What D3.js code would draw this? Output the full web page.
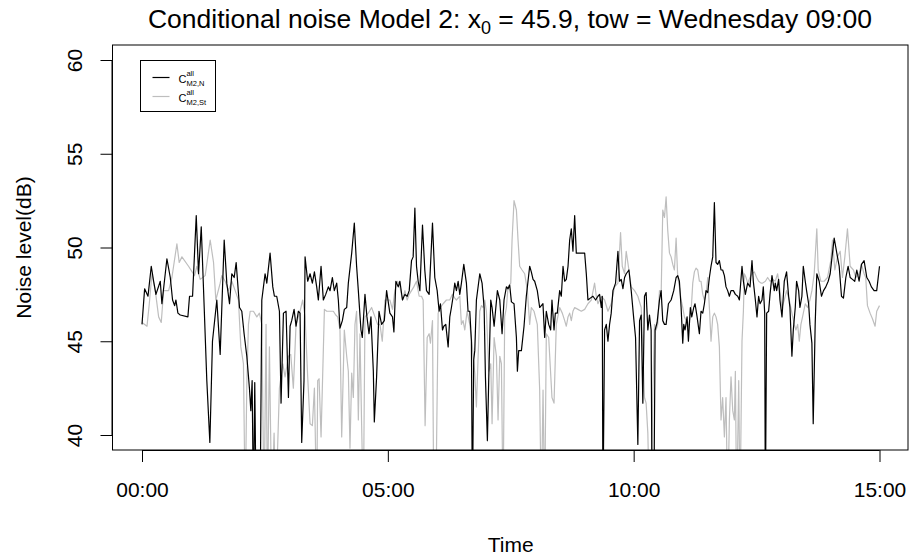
<!DOCTYPE html>
<html><head><meta charset="utf-8">
<script src="https://cdn.jsdelivr.net/npm/d3@7"></script>
<style>body{margin:0;background:#fff}svg{display:block}text{font-family:"Liberation Sans",Arial,Helvetica,sans-serif;fill:#000}</style>
</head><body><svg id="c" width="909" height="558"></svg>
<script>
// ---- data (minutes since 00:00, dB) ----
const xTickMinutes = [0, 300, 600, 900];
const xTickLabels = ["00:00", "05:00", "10:00", "15:00"];
const yTicks = [40, 45, 50, 55, 60];
const seriesNames = ["M2,N", "M2,St"];
const seriesN = [[0,45.9],[3.2,47.8],[7.3,47.4],[11.3,49.0],[14.2,48.2],[17,47.5],[22.3,48.2],[24.3,47.0],[30.4,49.4],[34.5,48.4],[37.3,47.2],[39.8,46.9],[41.4,47.2],[43.8,46.5],[46.7,46.4],[56,46.3],[58,47.4],[61.7,47.4],[66.2,51.7],[69,48.6],[72.3,51.1],[75.9,46.8],[79.1,42.9],[82.8,39.6],[86,45.0],[91.3,47.2],
[95.4,44.3],[100.3,50.4],[103.5,48.1],[106.8,47.0],[109.6,48.6],[112.5,48.4],[114.9,49.2],[119,46.8],[121.8,46.6],[124.6,45.4],[127.9,44.2],[131.1,42.5],[132.8,41.3],[134.4,42.9],[136,36],[137.6,42.8],[139.3,36],[144.1,36],[146.2,47.2],[150.2,48.6],[152.3,48.1],[156.3,49.7],[159.6,47.9],[161.6,47.4],[164.4,47.4],[167.7,46.6],[169.7,41.7],[172.6,46.5],[175.8,46.6],[178.7,42.0],[180.7,45.8],[182.7,46.1],[185.6,46.7],[188,45.8],[190.8,46.6],[192.9,46.5],[194.9,39.6],[197.7,42.9],
[199,49.5],[202.2,48.2],[205.1,48.6],[207.9,48.1],[210.4,48.7],[213.2,47.9],[215.2,47.2],[218.5,49.0],[221.3,47.2],[224.2,47.5],[227.4,47.9],[229.5,47.7],[232.3,48.4],[234.7,47.7],[237.6,48.1],[239.6,47.2],[241.6,45.7],[244.5,46.1],[246.9,46.7],[249.8,46.8],[251.8,48.1],[255.9,49.7],[259.1,51.3],[261.9,49.0],[264,47.7],[267.2,45.6],[268.8,45.2],[272.1,47.5],[274.5,46.3],[277,45.4],[279.4,46.3],[282.3,43.4],[283.5,40.7],[286.3,43.1],[289.2,46.6],[292.4,45.9],[295.7,46.1],[298.5,47.7],
[302.5,46.5],[305.7,46.3],[307.4,45.5],[309.8,48.2],[312.7,47.9],[314.7,48.2],[317.9,47.2],[320.8,47.5],[323.6,47.4],[326.1,47.7],[328.9,49.3],[330.9,49.5],[333,52.1],[335,49.0],[337,48.2],[339.1,47.7],[342.3,51.2],[345.1,48.8],[347.2,47.7],[350.4,47.5],[354.5,51.3],[357.3,48.4],[360.2,47.7],[362.6,46.6],[364.2,47.0],[366.7,45.6],[368.3,45.8],[370.7,45.9],[373.6,44.7],[375.6,46.3],[377.6,46.8],[379.7,47.4],[381.7,48.1],[383.7,47.7],[385.8,48.2],[387.8,47.5],[389.8,48.1],[392.7,49.1],[395.9,48.1],[397.9,46.6],[400,46.6],[402,45.0],[403.2,36],[404.8,44.0],
[406.1,44.5],[408.1,47.2],[412.2,48.6],[415,48.1],[417.5,46.8],[419.1,43.1],[421.5,39.7],[423.2,43.1],[425.6,47.2],[427.2,46.8],[429.7,45.8],[433.7,47.7],[436.6,47.2],[439.4,45.4],[441.8,47.2],[444.7,47.9],[446.7,47.8],[448.7,48.0],[450.8,47.1],[454,47.0],[456.9,45.2],[458.1,43.4],[459.7,44.5],[463,44.5],[466.2,45.8],[469,47.4],[473.1,49.0],[475.1,48.7],[477.2,48.3],[479.2,48.2],[482.4,47.7],[485.3,46.8],[487.3,46.9],[489.3,47.0],[491.4,45.2],[493.4,46.6],[496.3,45.9],[498.7,45.6],[500.3,47.2],[502.8,45.6],[504.4,46.5],[506.8,46.5],
[509.7,47.7],[511.7,47.4],[513.8,49.0],[515.8,48.2],[517.8,48.3],[519.9,49.0],[521.9,50.4],[523.9,51.0],[525.9,49.8],[528,51.7],[530,49.7],[540.2,49.7],[542.2,48.6],[544.2,47.2],[547.1,47.3],[550.3,47.4],[553.6,47.2],[556.4,47.4],[558.4,47.5],[560.5,46.8],[561.7,47.4],[562.5,36],[564.5,45.6],[566.6,45.9],[568.6,45.0],[570.6,45.9],[572.6,46.5],[574.7,47.7],[577.9,48.1],[580.8,49.8],[582.8,48.2],[584.8,48.3],[586.9,47.8],[588.9,48.4],[590.9,48.6],[594.2,48.8],[597,47.7],[599.9,46.3],[602.3,45.2],[605.1,39.5],[607.2,46.1],[609.2,46.4],[611.2,41.7],
[613.2,47.4],[615.2,47.6],[617.3,45.6],[619.3,46.4],[621.3,45.6],[622.5,36],[624.6,36],[626.2,45.6],[628.6,46.0],[631.5,47.2],[633.5,47.7],[635.5,46.1],[637.6,45.9],[639.6,45.9],[642.4,47.0],[645.7,47.2],[648.9,47.7],[651.8,48.4],[653.8,48.5],[655.8,48.2],[657.9,46.8],[659.9,44.9],[661.1,45.9],[662.7,45.6],[665.2,46.3],[666.8,45.0],[669.2,46.8],[670.9,46.3],[673.3,46.8],[674.9,47.0],[677.4,46.3],[680.2,45.4],[682.2,46.6],[684.3,46.5],[686.3,47.0],[688.3,47.7],[690.4,47.6],[692.4,48.4],[694.4,49.0],[696.5,49.5],[698.5,52.4],[700.5,49.2],[702.5,49.1],[704.6,49.3],[706.6,48.8],[708.6,48.8],[710.7,48.5],[712.7,47.9],[714.7,47.7],
[716.8,47.4],[718.8,47.7],[721.7,47.7],[724.1,47.5],[727,47.4],[729,47.2],[732.2,49.0],[733.9,48.2],[736.3,47.5],[739.1,48.1],[742,47.9],[744.4,49.3],[746,48.2],[748.5,47.2],[750.5,46.3],[752.5,47.4],[754.2,47.0],[756.6,47.2],[758.2,47.9],[759.9,46.5],[760.7,36],[762.3,46.5],[764.7,46.6],[766.4,47.5],[768.8,48.5],[771.6,47.7],[772.8,48.1],[774.5,47.7],[776.9,48.3],[778.5,47.2],[781,46.3],[783.8,48.2],[786.6,48.7],[789.1,47.4],[790.7,46.8],[793.1,44.2],[794.8,45.6],[797.2,46.8],[798.8,48.2],[801.3,47.7],[802.9,46.8],[805.3,47.4],[807,49.0],[809.4,48.2],[811,47.7],[813.5,47.0],[815.1,45.9],[817.5,44.9],[819.1,40.6],
[821.5,45.9],[823.5,48.6],[826.4,48.2],[829.2,47.4],[831.7,47.7],[834.5,47.9],[837.4,48.2],[839.8,48.6],[842.6,49.7],[844.7,50.5],[846.7,50.0],[848.7,49.5],[850.8,49.0],[853.6,47.4],[856,47.3],[858.9,48.4],[861.7,49.0],[864.2,48.4],[867,48.3],[869.8,48.2],[872.3,48.8],[875.1,48.2],[878,49.1],[881.2,49.3],[884.5,48.4],[887.3,48.2],[890.1,47.9],[893.4,47.7],[896.6,47.7],[900,49.0]];
const seriesSt = [[0,46.0],[6.1,45.8],[8.9,47.0],[12.1,48.6],[16.2,47.7],[20.3,46.3],[23.5,46.0],[26.4,47.7],[32.5,47.7],[36.5,48.4],[42.6,50.2],[45.4,49.2],[48.7,49.5],[56.8,49.0],[64.1,48.5],[67,49.0],[71,48.3],[77.1,48.5],[83.2,50.4],[87.3,49.2],[90.1,47.2],[95.4,48.1],
[97.4,48.5],[101.5,48.2],[105.6,47.7],[109.6,48.2],[113.7,47.7],[117.7,47.2],[120.6,44.7],[123.8,43.8],[125.9,36],[127.9,42.7],[129.9,45.9],[132,46.6],[136,46.6],[140.1,46.3],[143.3,46.5],[146.2,45.9],[149,36],[151.4,45.9],[153.1,36],[155.5,44.7],[158.3,36],[161.2,40.1],[163.2,36],[167.7,42.5],[171.8,43.8],[174.6,43.1],[178.7,44.2],[181.5,44.3],[184.7,42.5],[188,45.9],[192.9,46.6],[196.1,47.2],
[199,46.3],[202.2,43.1],[205.1,40.6],[207.9,40.5],[210.4,42.5],[213.2,36],[214.4,42.9],[216.1,43.0],[218.5,39.9],[222.6,46.7],[225.4,46.6],[229.5,46.6],[233.5,46.6],[236.4,46.4],[238.8,46.3],[241.6,45.6],[243.7,39.9],[246.9,45.6],[249.8,44.2],[251.8,43.4],[253.8,39.3],[255.9,43.3],[257.9,42.0],[259.9,45.9],[261.9,46.6],[264,40.8],[266,45.4],[268,40.6],[270.1,36],[272.1,46.3],[276.2,46.5],[280.2,46.8],[284.3,46.3],[287.5,45.9],[290.4,45.9],[293.2,45.0],[296.5,47.2],
[302.5,47.2],[305.7,46.7],[308.6,47.7],[311.4,48.2],[313.9,48.1],[317.9,47.2],[320.8,47.7],[323.6,47.2],[326.1,47.5],[328.9,47.7],[331.7,47.9],[335,48.2],[338.2,47.4],[341.1,47.4],[343.1,47.2],[345.5,40.5],[348,45.2],[350.4,45.4],[352,44.9],[354.5,46.1],[356.1,36],[358.5,36],[361.4,46.5],[364.2,46.8],[367.5,47.0],[371.5,47.2],[375.6,47.2],[378.8,47.5],[381.7,47.3],[383.7,47.2],[387.8,47.4],[389.8,45.9],[391.8,46.1],[393.9,45.6],[396.7,46.6],[400,45.9],[403.2,44.7],
[406.1,43.3],[408.1,41.5],[410.2,44.2],[412.2,46.6],[414.2,46.9],[416.3,46.8],[418.3,47.2],[420.3,46.6],[423.2,43.4],[425.6,43.8],[427.2,40.6],[429.7,45.2],[432.5,44.2],[434.5,40.8],[436.6,44.2],[438.6,43.8],[440.6,36],[442.6,46.3],[444.7,46.8],[446.7,47.9],[450,48.1],[451.6,50.4],[454,52.5],[456.9,52.0],[458.9,50.4],[460.9,49.0],[463.8,48.8],[467,48.6],[470.3,47.7],[473.1,45.9],[475.1,46.8],[478.4,46.6],[482.4,45.9],[485.3,42.4],[487.3,36],[489.4,42.4],[491.4,36],[493.4,45.4],[496.3,45.2],[500.3,42.0],[502.8,41.7],[505.6,45.9],
[509.7,46.8],[512.9,46.5],[515.8,46.1],[517.8,45.8],[519.9,46.3],[521.9,46.5],[523.9,46.1],[525.9,46.6],[528,46.8],[532,46.7],[536.1,46.6],[540.2,46.7],[544.2,47.0],[548.3,47.2],[552.3,48.1],[554.4,47.4],[556.4,47.0],[560.5,47.4],[564.5,47.2],[568.6,46.6],[572.6,47.0],[576.7,47.9],[580.8,48.1],[584,50.8],[586.1,49.0],[588.9,48.6],[590.9,49.8],[594.2,48.8],[597,47.9],[601.1,47.7],[605.1,47.4],[609.2,46.8],
[613.2,42.0],[615.2,41.7],[617.3,40.1],[619.3,36],[621.3,36],[623.4,42.4],[625.4,45.9],[627.4,45.6],[629.4,45.9],[631.5,47.7],[633.5,47.4],[635.5,52.0],[637.6,51.6],[639.6,52.7],[641.6,50.9],[643.7,49.7],[645.7,49.5],[647.7,49.1],[649.7,48.8],[651.8,50.5],[653.8,48.4],[655.8,47.9],[657.9,47.2],[659.9,46.8],[661.9,46.3],[664,46.1],[666,45.6],[670.1,46.6],[672.1,48.1],[674.1,48.7],[676.1,48.9],[678.2,48.8],[680.2,48.2],[682.2,48.2],[684.3,47.5],[686.3,47.2],[688.3,47.5],[690.4,48.4],[692.4,46.8],[694.4,45.0],[696.5,46.3],[698.5,46.5],[700.5,46.3],[702.5,45.9],[704.6,44.7],[706.6,40.8],[708.6,42.0],[710.7,39.9],[712.7,42.0],[714.7,36],
[716.8,40.8],[718.8,43.1],[720.9,41.3],[722.9,40.8],[724.1,43.4],[725.7,36],[728.2,42.9],[729.8,36],[732.2,45.0],[733.9,46.6],[735.1,48.6],[737.1,48.4],[739.1,48.1],[742,48.4],[744.4,48.6],[747.3,48.7],[750.1,48.4],[752.5,48.2],[755.4,48.1],[757.4,48.1],[760.7,48.2],[763.5,48.4],[766.4,48.2],[769.6,48.3],[772.8,48.2],[775.7,48.6],[778.5,47.7],[781,46.8],[783.8,47.2],[786.6,47.7],[789.9,47.2],[793.1,46.5],[796,45.9],[798,45.6],[800.1,45.9],[802.1,45.0],[804.1,45.9],[806.1,46.3],[809.4,47.0],[812.2,46.8],[815.1,47.2],[817.5,47.7],
[820.3,48.6],[823.5,51.0],[825.2,48.8],[828.4,48.2],[832.5,48.2],[836.5,48.4],[840.6,49.3],[842.6,50.4],[845.5,48.8],[848.7,49.5],[852,49.8],[854.8,48.4],[857.7,49.5],[860.9,51.0],[864.2,49.0],[868.2,48.8],[871.1,48.4],[875.1,48.6],[878,49.1],[881.2,48.6],[883.2,48.4],[885.3,46.9],[888.5,46.5],[891.4,46.2],[894.6,45.8],[896.6,46.6],[900,46.9]];

// ---- layout ----
const L = 112.5, R = 909, T = 45, B = 450;
const svg = d3.select("#c");
const x = d3.scaleLinear().domain([-36, 936]).range([L, R]);
const y = d3.scaleLinear().domain([39.2, 60.8]).range([B, T]);

svg.append("defs").append("clipPath").attr("id","clip")
  .append("rect").attr("x", L).attr("y", T).attr("width", R - L).attr("height", B - T);

const line = d3.line().x(d => x(d[0])).y(d => y(d[1]));
const g = svg.append("g").attr("clip-path","url(#clip)");
g.append("path").datum(seriesSt).attr("d", line).attr("fill","none").attr("stroke","#bebebe").attr("stroke-width",1.2).attr("stroke-linejoin","round");
g.append("path").datum(seriesN).attr("d", line).attr("fill","none").attr("stroke","#000").attr("stroke-width",1.2).attr("stroke-linejoin","round");

// box
svg.append("rect").attr("x", L).attr("y", T).attr("width", R - L - 1).attr("height", B - T)
  .attr("fill","none").attr("stroke","#000").attr("stroke-width",1);

// x axis
const xAxis = d3.axisBottom(x).tickValues(xTickMinutes).tickFormat((d,i) => xTickLabels[i]).tickSize(12).tickPadding(20);
const gx = svg.append("g").attr("transform", `translate(0,${B})`).call(xAxis);
gx.select(".domain").attr("d", `M${x(0)},0.5H${x(900)}`);
gx.selectAll("text").style("font-size","21px").attr("fill","#000");

// y axis
const yAxis = d3.axisLeft(y).tickValues(yTicks).tickSize(12).tickPadding(0);
const gy = svg.append("g").attr("transform", `translate(${L},0)`).call(yAxis);
gy.select(".domain").attr("d", `M-0.5,${y(40)}V${y(60)}`);
gy.selectAll(".tick text").style("font-size","21px").attr("fill","#000")
  .attr("transform","rotate(-90)").attr("x",0).attr("y",-31).attr("dy",0).attr("text-anchor","middle");

// title
const title = svg.append("text").attr("x", 510).attr("y", 28).attr("text-anchor","middle").style("font-size","26.5px");
title.append("tspan").text("Conditional noise Model 2: x");
title.append("tspan").attr("dy", 6).style("font-size","18px").text("0");
title.append("tspan").attr("dy", -6).text(" = 45.9, tow = Wednesday 09:00");

// axis titles
svg.append("text").attr("x", (L + R) / 2).attr("y", 552).attr("text-anchor","middle").style("font-size","21px").text("Time");
svg.append("text").attr("transform", `translate(31,${(y(40)+y(60))/2}) rotate(-90)`).attr("text-anchor","middle").style("font-size","21px").text("Noise level(dB)");

// legend
const lg = svg.append("g").attr("transform","translate(140.5,60.5)");
lg.append("rect").attr("width", 75).attr("height", 51).attr("fill","#fff").attr("stroke","#000");
const legendColors = ["#000", "#bebebe"];
seriesNames.forEach((n, i) => {
  const yy = 17 + i * 19;
  lg.append("line").attr("x1", 12).attr("x2", 29).attr("y1", yy).attr("y2", yy).attr("stroke", legendColors[i]).attr("stroke-width", 1.2);
  const t = lg.append("text").attr("x", 38).attr("y", yy + 5).style("font-size","11px");
  t.append("tspan").text("C");
  t.append("tspan").attr("dy", -7).style("font-size","7.5px").text("all");
  t.append("tspan").attr("x", 46).attr("dy", 10).style("font-size","7.5px").text(n);
});
</script></body></html>
